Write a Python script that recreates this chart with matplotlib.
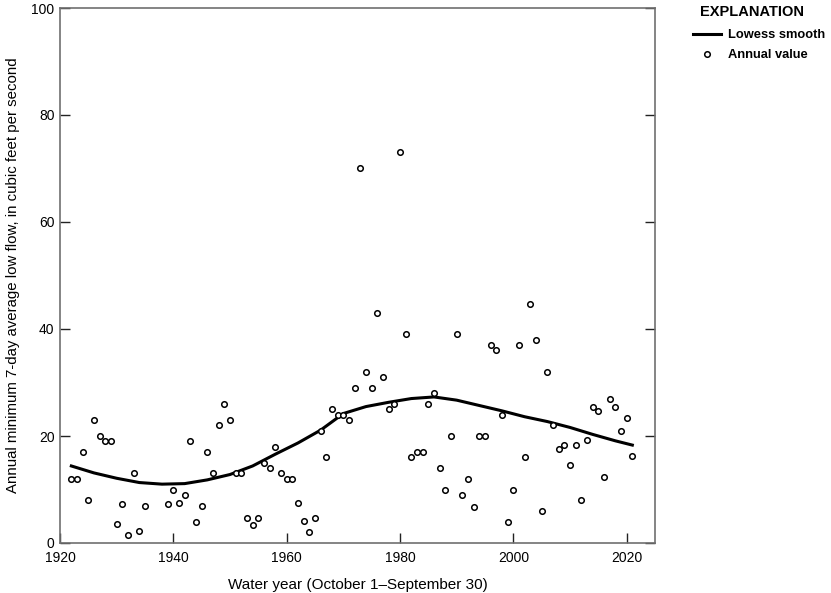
import numpy as np
import matplotlib.pyplot as plt

plt.rcParams['font.family'] = ['Liberation Sans', 'DejaVu Sans']

# annual minimum 7-day low flow, cfs
years = [1922, 1923, 1924, 1925, 1926, 1927, 1928, 1929, 1930, 1931, 1932, 1933, 1934, 1935,
         1939, 1940, 1941, 1942, 1943, 1944, 1945, 1946, 1947, 1948, 1949, 1950,
         1951, 1952, 1953, 1954, 1955, 1956, 1957, 1958, 1959, 1960, 1961, 1962, 1963, 1964,
         1965, 1966, 1967, 1968, 1969, 1970, 1971, 1972, 1973, 1974, 1975, 1976, 1977, 1978,
         1979, 1980, 1981, 1982, 1983, 1984, 1985, 1986, 1987, 1988, 1989, 1990, 1991, 1992,
         1993, 1994, 1995, 1996, 1997, 1998, 1999, 2000, 2001, 2002, 2003, 2004, 2005, 2006,
         2007, 2008, 2009, 2010, 2011, 2012, 2013, 2014, 2015, 2016, 2017, 2018, 2019, 2020, 2021]
flows = [12, 12, 17, 8, 23, 20, 19, 19, 3.5, 7.2, 1.5, 13, 2.3, 7,
         7.2, 10, 7.4, 9, 19, 4, 7, 17, 13, 22, 26, 23,
         13, 13, 4.7, 3.4, 4.7, 15, 14, 18, 13, 12, 12, 7.4, 4.2, 2.1,
         4.7, 21, 16, 25, 24, 24, 23, 29, 70, 32, 29, 43, 31, 25,
         26, 73, 39, 16, 17, 17, 26, 28, 14, 10, 20, 39, 9, 12,
         6.7, 20, 20, 37, 36, 24, 4, 10, 37, 16, 44.7, 38, 6, 32,
         22, 17.5, 18.3, 14.5, 18.3, 8, 19.3, 25.4, 24.7, 12.3, 27, 25.5, 21, 23.4, 16.3]

# lowess smooth
smooth_years = [1922, 1926, 1930, 1934, 1938, 1942, 1946, 1950, 1954, 1958, 1962, 1966,
                1970, 1974, 1978, 1982, 1986, 1990, 1994, 1998, 2002, 2006, 2010, 2014, 2018, 2021]
smooth_vals = [14.4, 13.1, 12.1, 11.3, 11.0, 11.1, 11.8, 12.8, 14.4, 16.6, 18.7, 21.1,
               24.2, 25.5, 26.3, 27.0, 27.3, 26.7, 25.7, 24.7, 23.6, 22.7, 21.6, 20.3, 19.1, 18.3]

fig = plt.figure(figsize=(8.31, 5.93), dpi=100)
ax = fig.add_axes([60 / 831, 50 / 593, 595 / 831, 535 / 593])

ax.plot(smooth_years, smooth_vals, color='black', lw=2.2, label='Lowess smooth', zorder=3)
ax.plot(years, flows, 'o', mfc='white', mec='black', ms=4, mew=1.1, ls='none',
        label='Annual value', zorder=4)

ax.set_xlim(1920, 2025)
ax.set_ylim(0, 100)
ax.set_xticks(range(1920, 2021, 20))
ax.set_yticks(range(0, 101, 20))
ax.tick_params(direction='in', length=7, width=1, right=True, labelsize=10,
               color='#222222', pad=4)
ax.tick_params(axis='x', pad=6)
for s in ax.spines.values():
    s.set_color('#707070')
    s.set_linewidth(1.2)

ax.set_xlabel('Water year (October 1\u2013September 30)', fontsize=11, labelpad=9)
ax.set_ylabel('Annual minimum 7-day average low flow, in cubic feet per second', fontsize=10.8,
              labelpad=8)

leg = fig.legend(loc='upper left', bbox_to_anchor=(693 / 831, 1 - 29 / 593), frameon=False,
                 prop={'weight': 'bold', 'size': 9.3}, handlelength=2.2, handletextpad=0.5,
                 labelspacing=0.65, borderaxespad=0, borderpad=0)
fig.text(752 / 831, 1 - 12 / 593, 'EXPLANATION', ha='center', va='center', fontsize=10.5,
         fontweight='bold')

fig.savefig('out.png', dpi=100)
